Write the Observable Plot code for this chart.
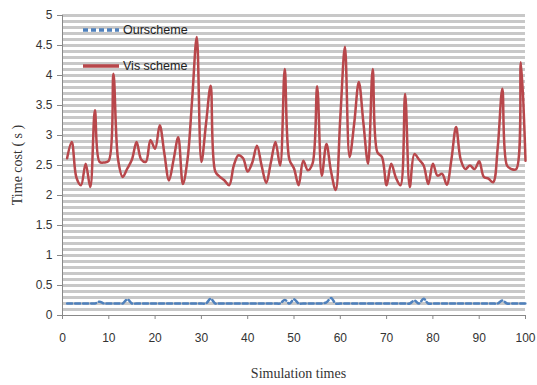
<!DOCTYPE html>
<html>
<head>
<meta charset="utf-8">
<script src="https://cdn.jsdelivr.net/npm/d3@7"></script>
<script src="https://cdn.jsdelivr.net/npm/@observablehq/plot@0.6"></script>
<style>
  body { margin: 0; background: #fff; }
  #chart { position: relative; width: 537px; height: 385px; }
</style>
</head>
<body>
<div id="chart"></div>
<script>
const runs = d3.range(1, 101);
const visScheme = [
  2.62, 2.89, 2.30, 2.17, 2.53, 2.14, 3.42, 2.56, 2.55, 2.58,
  4.03, 2.60, 2.31, 2.45, 2.60, 2.89, 2.60, 2.56, 2.92, 2.78,
  3.17, 2.70, 2.25, 2.60, 2.97, 2.19, 2.60, 3.60, 4.64, 2.56,
  3.20, 3.83, 2.40, 2.31, 2.25, 2.17, 2.50, 2.67, 2.62, 2.40,
  2.55, 2.83, 2.50, 2.21, 2.55, 2.89, 2.50, 4.11, 2.60, 2.45,
  2.17, 2.58, 2.42, 2.53, 3.82, 2.33, 2.86, 2.40, 2.09, 3.30,
  4.48, 2.64, 3.20, 3.89, 3.20, 2.53, 4.11, 2.72, 2.64, 2.17,
  2.53, 2.30, 2.17, 3.69, 2.14, 2.69, 2.60, 2.50, 2.19, 2.53,
  2.33, 2.36, 2.18, 2.60, 3.14, 2.60, 2.44, 2.50, 2.44, 2.57,
  2.31, 2.28, 2.22, 2.80, 3.78, 2.50, 2.44, 2.44, 4.22, 2.58
];
const ourScheme = [
  0.20, 0.20, 0.20, 0.20, 0.20, 0.20, 0.20, 0.23, 0.20, 0.20,
  0.20, 0.20, 0.20, 0.27, 0.20, 0.20, 0.20, 0.20, 0.20, 0.20,
  0.20, 0.20, 0.20, 0.20, 0.20, 0.20, 0.20, 0.20, 0.20, 0.20,
  0.20, 0.28, 0.20, 0.20, 0.20, 0.20, 0.20, 0.20, 0.20, 0.20,
  0.20, 0.20, 0.20, 0.20, 0.20, 0.20, 0.20, 0.26, 0.20, 0.27,
  0.20, 0.20, 0.20, 0.20, 0.20, 0.20, 0.22, 0.29, 0.20, 0.20,
  0.20, 0.20, 0.20, 0.20, 0.20, 0.20, 0.20, 0.20, 0.20, 0.20,
  0.20, 0.20, 0.20, 0.20, 0.20, 0.25, 0.20, 0.28, 0.20, 0.20,
  0.20, 0.20, 0.20, 0.20, 0.20, 0.20, 0.20, 0.20, 0.20, 0.20,
  0.20, 0.20, 0.20, 0.20, 0.25, 0.20, 0.20, 0.20, 0.20, 0.20
];
const xTicks = [0, 10, 20, 30, 40, 50, 60, 70, 80, 90, 100];
const yTicks = [0, 0.5, 1, 1.5, 2, 2.5, 3, 3.5, 4, 4.5, 5];
const gridValues = d3.range(1, 51).map(i => i / 10);
const seriesNames = ["Ourscheme", "Vis scheme"];
const xTitle = "Simulation times";
const yTitle = "Time cost ( s )";

const visData = runs.map((r, i) => ({x: r, y: visScheme[i]}));
const ourData = runs.map((r, i) => ({x: r, y: ourScheme[i]}));

const W = 537, H = 385, mL = 62, mR = 12, mT = 15, mB = 70;

const plot = Plot.plot({
  width: W, height: H,
  marginLeft: mL, marginRight: mR, marginTop: mT, marginBottom: mB,
  style: {fontFamily: "Liberation Sans, Arial, sans-serif", fontSize: "12px", color: "#333", background: "#fff"},
  x: {domain: [0, 100]},
  y: {domain: [0, 5]},
  marks: [
    Plot.ruleY(gridValues, {stroke: "#c8c8c8", strokeWidth: 3}),
    Plot.ruleX([0], {stroke: "#888", strokeWidth: 1}),
    Plot.ruleY([0], {stroke: "#888", strokeWidth: 1}),
    Plot.axisY({ticks: yTicks, tickSize: 5, tickPadding: 5, label: null, fontSize: 12, stroke: "#888", tickFormat: d => String(d)}),
    Plot.axisX({ticks: xTicks, tickSize: 4, tickPadding: 14, label: null, fontSize: 12, stroke: "#888", tickFormat: d => String(d)}),
    Plot.line(ourData, {x: "x", y: "y", stroke: "#4f81bd", strokeWidth: 2.5, strokeDasharray: "5,3", curve: "catmull-rom"}),
    Plot.line(visData, {x: "x", y: "y", stroke: "#b8474b", strokeWidth: 2.5, curve: "catmull-rom"})
  ]
});
document.getElementById("chart").appendChild(plot);

const svg = d3.select(plot);
// axis titles
svg.append("text")
  .attr("x", (mL + W - mR) / 2 + 5).attr("y", 378)
  .attr("text-anchor", "middle")
  .attr("font-family", "Liberation Serif, Times New Roman, serif")
  .attr("font-size", 14).attr("fill", "#333")
  .text(xTitle);
svg.append("text")
  .attr("transform", `translate(22, ${mT + (H - mT - mB) / 2}) rotate(-90)`)
  .attr("text-anchor", "middle")
  .attr("font-family", "Liberation Serif, Times New Roman, serif")
  .attr("font-size", 14).attr("fill", "#333")
  .text(yTitle);

// legend inside plot
const legend = svg.append("g").attr("text-anchor", "start");
const lg = [
  {name: seriesNames[0], color: "#4f81bd", dash: "5,3", y: 30},
  {name: seriesNames[1], color: "#b8474b", dash: null, y: 66}
];
lg.forEach(d => {
  legend.append("line")
    .attr("x1", 83).attr("x2", 119).attr("y1", d.y).attr("y2", d.y)
    .attr("stroke", d.color).attr("stroke-width", 3.5)
    .attr("stroke-dasharray", d.dash);
  legend.append("text")
    .attr("x", 123).attr("y", d.y + 4)
    .attr("text-anchor", "start")
    .attr("font-family", "Liberation Sans, Arial, sans-serif")
    .attr("font-size", 12.5).attr("fill", "#222")
    .text(d.name);
});
</script>
</body>
</html>
